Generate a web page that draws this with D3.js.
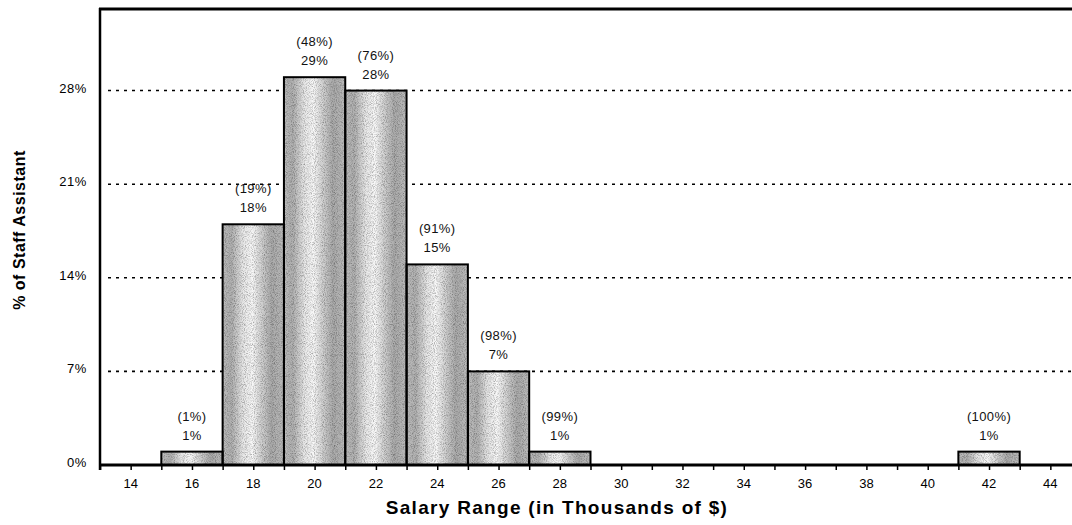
<!DOCTYPE html>
<html>
<head>
<meta charset="utf-8">
<script src="https://cdn.jsdelivr.net/npm/d3@7"></script>
<style>
  body { margin: 0; background: #fff; }
  svg { display: block; font-family: Arial, "Liberation Sans", sans-serif; }
</style>
</head>
<body>
<svg width="1072" height="525"></svg>
<script>
// salary bins (centre of each 2k range), share of staff, cumulative share
const bins = [16, 18, 20, 22, 24, 26, 28, 42];
const pct = [1, 18, 29, 28, 15, 7, 1, 1];
const cum = [1, 19, 48, 76, 91, 98, 99, 100];
const yTicks = [0, 7, 14, 21, 28];
const xTicks = [14, 16, 18, 20, 22, 24, 26, 28, 30, 32, 34, 36, 38, 40, 42, 44];
const xMinor = d3.range(13, 46, 1);

const svg = d3.select("svg");
const width = +svg.attr("width");
const height = +svg.attr("height");

const margin = { top: 9, left: 100, bottom: 60 };
const x = d3.scaleLinear().domain([13, 45]).range([margin.left, 1081]);
const y = d3.scaleLinear().domain([0, 34.1]).range([height - margin.bottom, margin.top]);

const defs = svg.append("defs");
const grad = defs.append("linearGradient").attr("id", "barFill")
    .attr("x1", "0%").attr("x2", "100%").attr("y1", "0%").attr("y2", "0%");
[[0, "#bcbcbc"], [0.15, "#b0b0b0"], [0.33, "#e6e6e6"], [0.48, "#f8f8f8"],
 [0.62, "#d4d4d4"], [0.8, "#aaaaaa"], [1, "#bcbcbc"]].forEach(s => {
    grad.append("stop").attr("offset", s[0]).attr("stop-color", s[1]);
});

// stipple texture like the scanned print
const grain = defs.append("filter").attr("id", "grain")
    .attr("x", 0).attr("y", 0).attr("width", "100%").attr("height", "100%");
grain.append("feTurbulence")
    .attr("type", "fractalNoise").attr("baseFrequency", 1.1)
    .attr("numOctaves", 1).attr("seed", 4).attr("result", "n");
grain.append("feColorMatrix")
    .attr("in", "n").attr("type", "matrix")
    .attr("values", "0 0 0 0 0  0 0 0 0 0  0 0 0 0 0  1.5 0 0 0 -0.62")
    .attr("result", "dots");
grain.append("feComposite")
    .attr("in", "dots").attr("in2", "SourceGraphic")
    .attr("operator", "in").attr("result", "clipped");
const merge = grain.append("feMerge");
merge.append("feMergeNode").attr("in", "SourceGraphic");
merge.append("feMergeNode").attr("in", "clipped");

// dotted gridlines
svg.append("g")
    .selectAll("line")
    .data(yTicks.filter(d => d > 0))
    .enter().append("line")
    .attr("x1", margin.left + 8)
    .attr("x2", width)
    .attr("y1", d => y(d))
    .attr("y2", d => y(d))
    .attr("stroke", "#000")
    .attr("stroke-width", 1.6)
    .attr("stroke-dasharray", "3,5");

// bars
const data = bins.map((b, i) => ({ bin: b, pct: pct[i], cum: cum[i] }));

const bars = svg.append("g");
bars.selectAll(".fill")
    .data(data)
    .enter().append("rect")
    .attr("class", "fill")
    .attr("x", d => x(d.bin - 1))
    .attr("y", d => y(d.pct))
    .attr("width", d => x(d.bin + 1) - x(d.bin - 1))
    .attr("height", d => y(0) - y(d.pct))
    .attr("fill", "url(#barFill)")
    .attr("filter", "url(#grain)");

bars.selectAll(".edge")
    .data(data)
    .enter().append("rect")
    .attr("class", "edge")
    .attr("x", d => x(d.bin - 1))
    .attr("y", d => y(d.pct))
    .attr("width", d => x(d.bin + 1) - x(d.bin - 1))
    .attr("height", d => y(0) - y(d.pct))
    .attr("fill", "none")
    .attr("stroke", "#000")
    .attr("stroke-width", 2);

// labels over bars
const labels = svg.append("g")
    .attr("font-size", 13)
    .attr("letter-spacing", 0.4)
    .attr("text-anchor", "middle")
    .attr("fill", "#111");

labels.selectAll(".cum")
    .data(data)
    .enter().append("text")
    .attr("class", "cum")
    .attr("x", d => x(d.bin))
    .attr("y", d => y(d.pct) - 31)
    .text(d => `(${d.cum}%)`);

labels.selectAll(".pct")
    .data(data)
    .enter().append("text")
    .attr("class", "pct")
    .attr("x", d => x(d.bin))
    .attr("y", d => y(d.pct) - 12)
    .text(d => `${d.pct}%`);

// x axis
const xAxis = svg.append("g")
    .attr("transform", `translate(0,${y(0)})`)
    .call(d3.axisBottom(x).tickValues(xMinor).tickSize(5).tickFormat(""));
xAxis.select(".domain").remove();
xAxis.selectAll("line").attr("stroke-width", 1.5);

svg.append("g")
    .attr("font-size", 13)
    .attr("text-anchor", "middle")
    .selectAll("text")
    .data(xTicks)
    .enter().append("text")
    .attr("x", d => x(d))
    .attr("y", y(0) + 23)
    .text(d => d);

svg.append("line")
    .attr("x1", margin.left - 1)
    .attr("x2", width)
    .attr("y1", y(0))
    .attr("y2", y(0))
    .attr("stroke", "#000")
    .attr("stroke-width", 3);

// y axis + frame top
svg.append("line")
    .attr("x1", margin.left)
    .attr("x2", margin.left)
    .attr("y1", margin.top - 1)
    .attr("y2", y(0) + 5)
    .attr("stroke", "#000")
    .attr("stroke-width", 2.5);

svg.append("line")
    .attr("x1", margin.left - 1)
    .attr("x2", width)
    .attr("y1", margin.top)
    .attr("y2", margin.top)
    .attr("stroke", "#000")
    .attr("stroke-width", 3);

svg.append("g")
    .attr("font-size", 13)
    .attr("letter-spacing", 0.6)
    .attr("text-anchor", "end")
    .selectAll("text")
    .data(yTicks)
    .enter().append("text")
    .attr("x", margin.left - 13)
    .attr("y", d => y(d) + 2)
    .text(d => `${d}%`);

// titles
svg.append("text")
    .attr("x", 557)
    .attr("y", 514)
    .attr("text-anchor", "middle")
    .attr("font-size", 19)
    .attr("font-weight", "bold")
    .attr("letter-spacing", 1.3)
    .text("Salary Range (in Thousands of $)");

svg.append("text")
    .attr("transform", "translate(25,230) rotate(-90)")
    .attr("text-anchor", "middle")
    .attr("font-size", 16)
    .attr("font-weight", "bold")
    .attr("letter-spacing", 0.5)
    .text("% of Staff Assistant");
</script>
</body>
</html>
